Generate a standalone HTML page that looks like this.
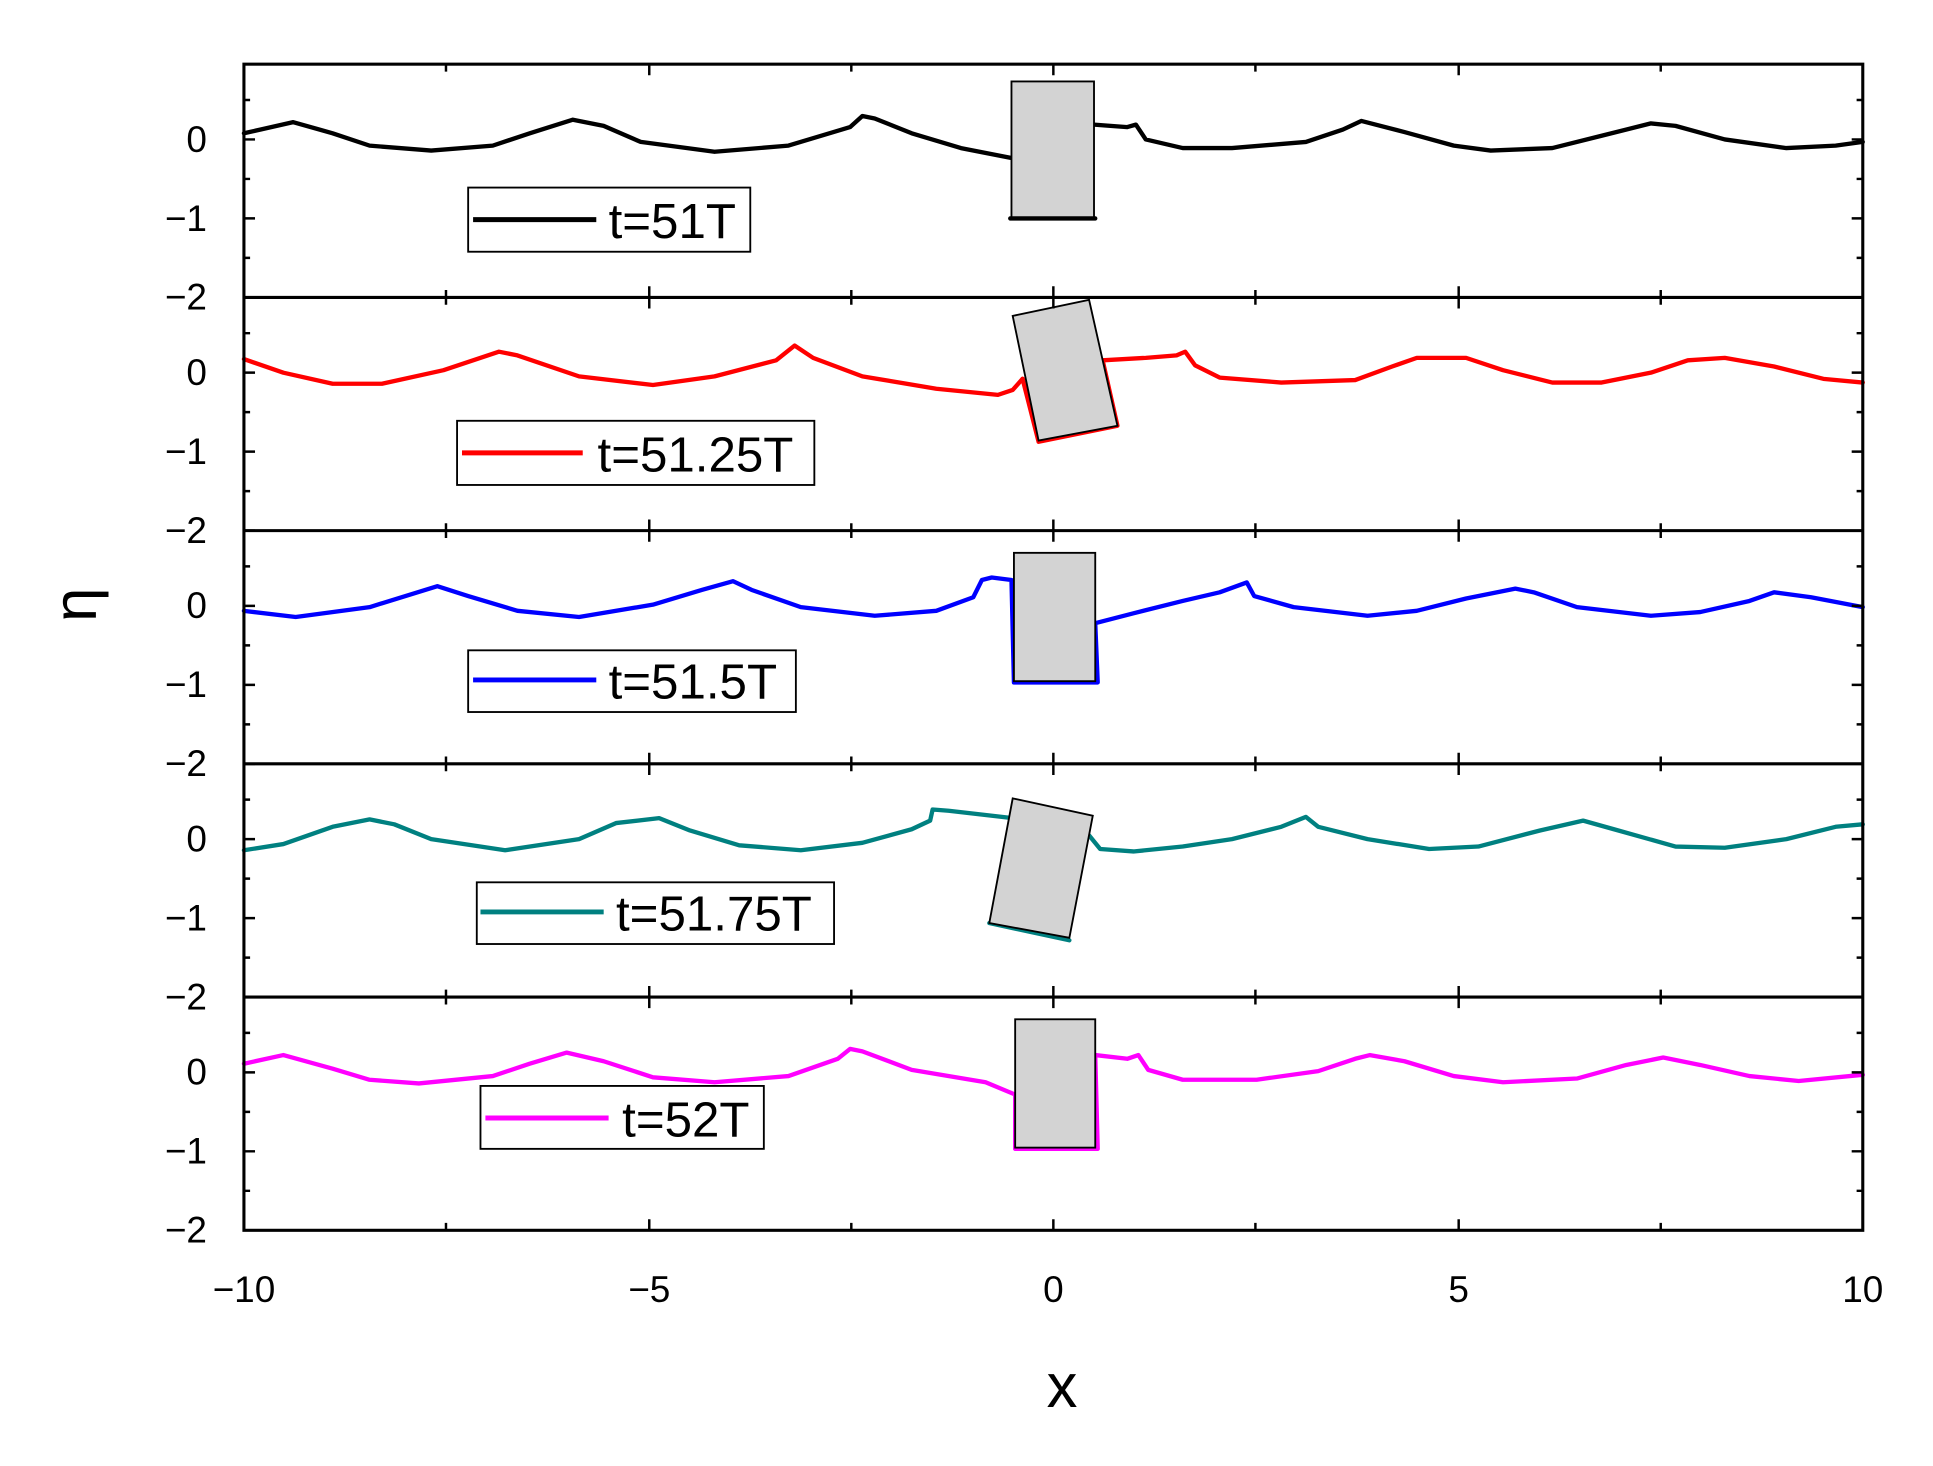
<!DOCTYPE html>
<html><head><meta charset="utf-8"><style>html,body{margin:0;padding:0;background:#fff}svg{display:block}</style></head><body>
<svg width="1933" height="1466" viewBox="0 0 1569 1188" preserveAspectRatio="none" xmlns="http://www.w3.org/2000/svg" font-family="Liberation Sans, sans-serif">
<rect width="1569" height="1188" fill="#fff"/>
<g fill="none" stroke-width="3.5" stroke-linejoin="round" stroke-linecap="round">
<polyline stroke="#000" points="198,108 238,99 270,108 300,118 350,122 400,118 430,108 465,97 490,102 520,115 580,123 640,118 690,103 700,94 710,96 740,108 780,120 821,128"/>
<polyline stroke="#000" points="888,101 915,103 922,101 930,113 960,120 1000,120 1060,115 1090,105 1105,98 1140,107 1180,118 1210,122 1260,120 1300,110 1340,100 1360,102 1400,113 1450,120 1490,118 1512,115"/>
<polyline stroke="#f00" points="198,291 230,302 270,311 310,311 360,300 405,285 420,288 470,305 530,312 580,305 630,292 645,280 660,290 700,305 760,315 810,320 822,316 830,307"/>
<polyline stroke="#f00" points="895,292 930,290 955,288 962,285 970,296 990,306 1040,310 1100,308 1130,297 1150,290 1190,290 1220,300 1260,310 1300,310 1340,302 1370,292 1400,290 1440,297 1480,307 1512,310"/>
<polyline stroke="#00f" points="198,495 240,500 300,492 355,475 380,483 420,495 470,500 530,490 570,478 595,471 610,478 650,492 710,499 760,495 790,484 797,470 805,468 821,470 823,553 891,553 889,505 920,497 960,487 990,480 1012,472 1018,483 1050,492 1110,499 1150,495 1190,485 1230,477 1245,480 1280,492 1340,499 1380,496 1420,487 1440,480 1470,484 1512,492"/>
<polyline stroke="#008080" points="198,689 230,684 270,670 300,664 320,668 350,680 410,689 470,680 500,667 535,663 560,673 600,685 650,689 700,683 740,672 755,665 757,656 770,657 822,663"/>
<polyline stroke="#008080" points="884,677 893,688 920,690 960,686 1000,680 1040,670 1060,662 1070,670 1110,680 1160,688 1200,686 1250,673 1285,665 1310,672 1360,686 1400,687 1450,680 1490,670 1512,668"/>
<polyline stroke="#008080" points="803,748 868,762"/>
<polyline stroke="#f0f" points="198,862 230,855 270,866 300,875 340,878 400,872 430,862 460,853 490,860 530,873 580,877 640,872 680,858 690,850 700,852 740,867 800,877 824,887"/>
<polyline stroke="#f0f" points="889,855 915,858 924,855 932,867 960,875 1020,875 1070,868 1100,858 1112,855 1140,860 1180,872 1220,877 1280,874 1320,863 1350,857 1380,863 1420,872 1460,876 1512,871"/>
<polyline stroke="#f0f" points="824,887 824,931 891,931 889,855"/>
<polyline stroke="#f00" points="830,307 843,358 907,345 895,292"/>
<line x1="820" y1="177" x2="889" y2="177" stroke="#000"/>
</g>
<g fill="#d3d3d3" stroke="#000" stroke-width="1.5">
<rect x="821" y="66" width="67" height="110"/>
<polygon points="822,256 884,243 907,345 843,357"/>
<rect x="823" y="448" width="66" height="104"/>
<polygon points="822,647 887,661 868,760 803,748"/>
<rect x="824" y="826" width="65" height="104"/>
</g>
<g stroke="#000" stroke-width="2.5" fill="none">
<rect x="198" y="52" width="1314" height="945"/>
<line x1="198" y1="241" x2="1512" y2="241"/><line x1="198" y1="430" x2="1512" y2="430"/><line x1="198" y1="619" x2="1512" y2="619"/><line x1="198" y1="808" x2="1512" y2="808"/>
</g>
<g stroke="#000" stroke-width="2" fill="none">
<path d="M198 113h9M198 177h9M198 241h9M198 81h5M198 145h5M198 209h5
M198 302h9M198 366h9M198 430h9M198 270h5M198 334h5M198 398h5
M198 491h9M198 555h9M198 619h9M198 459h5M198 523h5M198 587h5
M198 680h9M198 744h9M198 808h9M198 648h5M198 712h5M198 776h5
M198 869h9M198 933h9M198 997h9M198 837h5M198 901h5M198 965h5
M1512 113h-9M1512 177h-9M1512 81h-5M1512 145h-5M1512 209h-5
M1512 302h-9M1512 366h-9M1512 270h-5M1512 334h-5M1512 398h-5
M1512 491h-9M1512 555h-9M1512 459h-5M1512 523h-5M1512 587h-5
M1512 680h-9M1512 744h-9M1512 648h-5M1512 712h-5M1512 776h-5
M1512 869h-9M1512 933h-9M1512 837h-5M1512 901h-5M1512 965h-5"/>
<path d="M527 52v9M855 52v9M1184 52v9M362 52v6M691 52v6M1019 52v6M1348 52v6
M527 241v-9M855 241v-9M1184 241v-9M362 241v-6M691 241v-6M1019 241v-6M1348 241v-6
M527 241v9M855 241v9M1184 241v9M362 241v6M691 241v6M1019 241v6M1348 241v6
M527 430v-9M855 430v-9M1184 430v-9M362 430v-6M691 430v-6M1019 430v-6M1348 430v-6
M527 430v9M855 430v9M1184 430v9M362 430v6M691 430v6M1019 430v6M1348 430v6
M527 619v-9M855 619v-9M1184 619v-9M362 619v-6M691 619v-6M1019 619v-6M1348 619v-6
M527 619v9M855 619v9M1184 619v9M362 619v6M691 619v6M1019 619v6M1348 619v6
M527 808v-9M855 808v-9M1184 808v-9M362 808v-6M691 808v-6M1019 808v-6M1348 808v-6
M527 808v9M855 808v9M1184 808v9M362 808v6M691 808v6M1019 808v6M1348 808v6
M527 997v-9M855 997v-9M1184 997v-9M362 997v-6M691 997v-6M1019 997v-6M1348 997v-6"/>
</g>
<g font-size="30" text-anchor="end">
<text x="168" y="123">0</text><text x="168" y="187">−1</text><text x="168" y="251">−2</text>
<text x="168" y="312">0</text><text x="168" y="376">−1</text><text x="168" y="440">−2</text>
<text x="168" y="501">0</text><text x="168" y="565">−1</text><text x="168" y="629">−2</text>
<text x="168" y="690">0</text><text x="168" y="754">−1</text><text x="168" y="818">−2</text>
<text x="168" y="879">0</text><text x="168" y="943">−1</text><text x="168" y="1007">−2</text>
</g>
<g font-size="30" text-anchor="middle">
<text x="198" y="1055">−10</text><text x="527" y="1055">−5</text><text x="855" y="1055">0</text><text x="1184" y="1055">5</text><text x="1512" y="1055">10</text>
</g>
<text x="862" y="1140" font-size="50" text-anchor="middle">x</text>
<text transform="translate(78,490) rotate(-90)" font-size="50" text-anchor="middle">η</text>
<g stroke="#000" stroke-width="1.5" fill="#fff">
<rect x="380" y="152" width="229" height="52"/><rect x="371" y="341" width="290" height="52"/><rect x="380" y="527" width="266" height="50"/><rect x="387" y="715" width="290" height="50"/><rect x="390" y="880" width="230" height="51"/>
</g>
<g stroke-width="4">
<line x1="384" y1="178" x2="484" y2="178" stroke="#000"/><line x1="375" y1="367" x2="473" y2="367" stroke="#f00"/><line x1="384" y1="551" x2="484" y2="551" stroke="#00f"/><line x1="390" y1="739" x2="490" y2="739" stroke="#008080"/><line x1="394" y1="906" x2="494" y2="906" stroke="#f0f"/>
</g>
<g font-size="40">
<text x="494" y="193">t=51T</text><text x="485" y="382">t=51.25T</text><text x="494" y="566">t=51.5T</text><text x="500" y="754">t=51.75T</text><text x="505" y="921">t=52T</text>
</g>
</svg>
</body></html>
